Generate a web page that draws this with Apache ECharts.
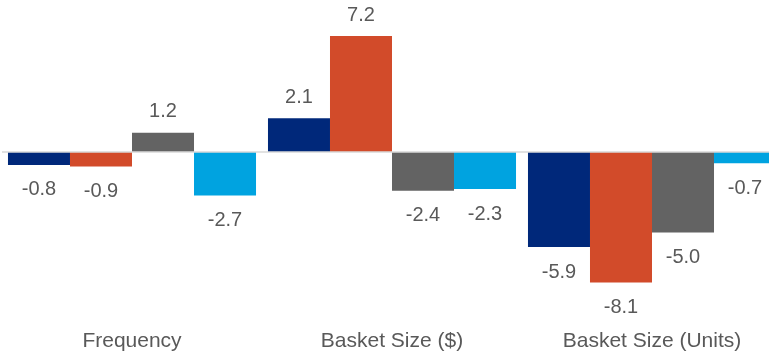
<!DOCTYPE html>
<html><head><meta charset="utf-8">
<script src="https://cdn.jsdelivr.net/npm/echarts@6/dist/echarts.min.js"></script>
<style>html,body{margin:0;padding:0;background:#fff}#c{width:769px;height:353px}</style>
</head><body><div id="c"></div>
<script>
const categories = ['Frequency', 'Basket Size ($)', 'Basket Size (Units)'];
const seriesA = [-0.8, 2.1, -5.9];
const seriesB = [-0.9, 7.2, -8.1];
const seriesC = [1.2, -2.4, -5.0];
const seriesD = [-2.7, -2.3, -0.7];
const colors = ['#00287a', '#d24b2a', '#636363', '#00a3e0'];

function mk(vals, color) {
  return {
    type: 'bar',
    barGap: '0%',
    barCategoryGap: '4.6%',
    itemStyle: { color: color },
    data: vals.map(v => ({
      value: v,
      label: { position: v >= 0 ? 'top' : 'bottom', distance: v >= 0 ? 11 : 15 }
    })),
    label: {
      show: true,
      color: '#595959',
      fontFamily: 'Liberation Sans, Arial, sans-serif',
      fontSize: 20,
      formatter: p => p.value.toFixed(1)
    }
  };
}
const series = [mk(seriesA, colors[0]), mk(seriesB, colors[1]), mk(seriesC, colors[2]), mk(seriesD, colors[3])];
series[0].markLine = {
  silent: true, symbol: 'none', label: { show: false },
  lineStyle: { color: '#d9d9d9', width: 1.5, type: 'solid' },
  data: [{ yAxis: 0 }]
};

const chart = echarts.init(document.getElementById('c'));
chart.setOption({
  animation: false,
  grid: { left: 2, width: 780, top: 23.2, bottom: 56.1, outerBoundsMode: 'none', containLabel: false },
  xAxis: {
    type: 'category', data: categories,
    axisLine: { show: false, onZero: false }, axisTick: { show: false },
    axisLabel: { color: '#595959', fontFamily: 'Liberation Sans, Arial, sans-serif', fontSize: 21, margin: 34 }
  },
  yAxis: { type: 'value', min: -9, max: 8, show: false, splitLine: { show: false } },
  series: series
});
</script></body></html>
